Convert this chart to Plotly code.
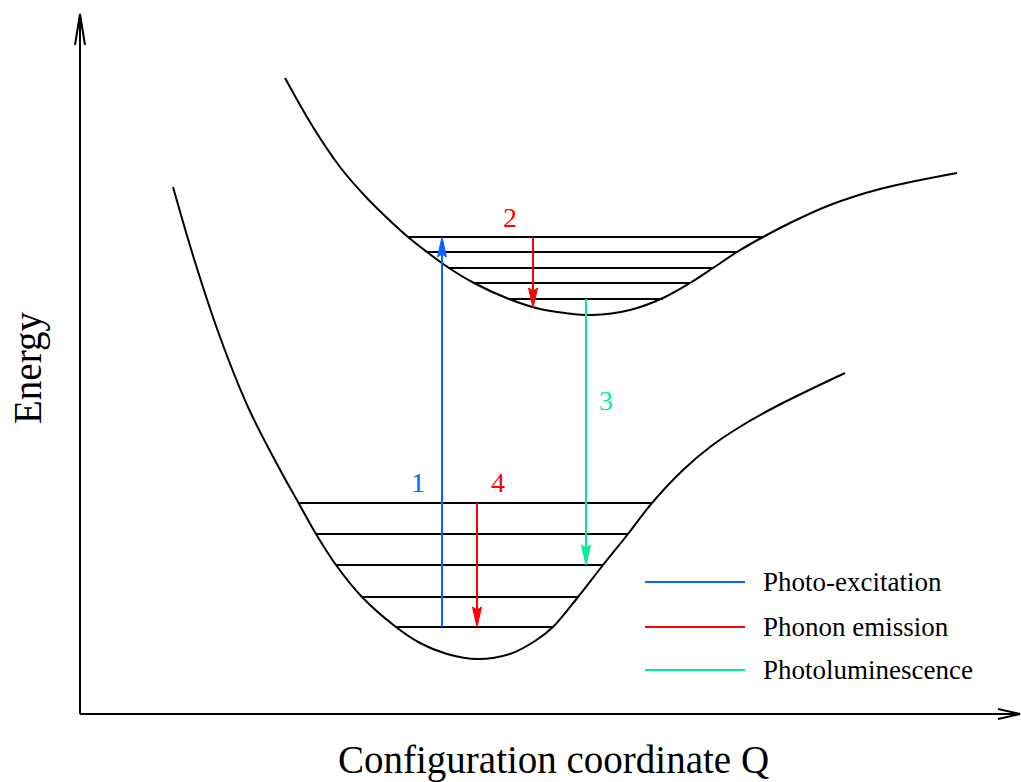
import plotly.graph_objects as go

# Potential energy curves (configuration coordinate Q, energy E)
ground_q = [173, 195, 220, 248, 278, 298, 316, 336, 362, 396, 420, 447, 478, 510,
            535, 553, 578, 603, 628, 652, 683, 710, 738, 775, 845]
ground_e = [595, 520, 445, 375, 316, 280, 248, 217, 185, 155, 139, 128, 123, 128,
            141, 155, 185, 217, 248, 279, 312, 335, 354, 375, 409]

excited_q = [285, 313, 340, 365, 385, 408, 427, 449, 474, 509, 540, 565, 592, 630, 663,
             690, 713, 737, 763, 790, 830, 880, 957]
excited_e = [704, 655, 615, 586, 566, 545, 530, 514, 499, 483, 473, 469, 467, 472, 484,
             499, 514, 530, 545, 559, 577, 593, 609]

# Vibrational levels: energy, left and right turning points
ground_lvl_e = [279, 248, 217, 185, 155]
ground_lvl_q0 = [298, 316, 336, 362, 396]
ground_lvl_q1 = [652, 628, 603, 578, 553]

excited_lvl_e = [545, 530, 514, 499, 483]
excited_lvl_q0 = [408, 427, 449, 474, 509]
excited_lvl_q1 = [763, 737, 713, 690, 663]

# Transitions: label, Q, start energy, end energy, colour
trans_labels = ["1", "2", "3", "4"]
trans_q = [442, 533, 586, 477]
trans_e0 = [155, 545, 483, 279]
trans_e1 = [545, 474, 217, 155]
trans_color = ["#0a64ff", "#ff0000", "#00f090", "#ff0000"]
trans_label_q = [418, 510, 606, 498]
trans_label_e = [300, 565, 382, 300]

# Legend
legend_labels = ["Photo-excitation", "Phonon emission", "Photoluminescence"]
legend_colors = ["#0a64ff", "#ff0000", "#00f090"]
legend_e = [200, 155, 112]
legend_q0, legend_q1, legend_text_q = 645, 745, 761

# Axes frame
origin_q, origin_e = 80, 68
q_end, e_end = 1020, 768

FONT = "Liberation Serif"

fig = go.Figure()


def line(xs, ys, color="black", width=2, shape="linear"):
    fig.add_trace(go.Scatter(x=xs, y=ys, mode="lines", hoverinfo="skip",
                             line=dict(color=color, width=width, shape=shape),
                             showlegend=False))


def filled_head(q, e, direction, color, length=20, half=4.5, notch=3):
    # direction: +1 pointing up (higher E), -1 pointing down
    back = e - direction * length
    xs = [q, q - half, q, q + half, q]
    ys = [e, back, back + direction * notch, back, e]
    fig.add_trace(go.Scatter(x=xs, y=ys, mode="lines", fill="toself",
                             fillcolor=color, hoverinfo="skip",
                             line=dict(color=color, width=1), showlegend=False))


# Curves
line(ground_q, ground_e, shape="spline")
line(excited_q, excited_e, shape="spline")

# Levels
for e, a, b in zip(ground_lvl_e, ground_lvl_q0, ground_lvl_q1):
    line([a, b], [e, e])
for e, a, b in zip(excited_lvl_e, excited_lvl_q0, excited_lvl_q1):
    line([a, b], [e, e])

# Transition arrows
for q, e0, e1, c in zip(trans_q, trans_e0, trans_e1, trans_color):
    d = 1 if e1 > e0 else -1
    line([q, q], [e0, e1 - d * 12], color=c, width=2)
    filled_head(q, e1, d, c)

# Axes with open arrowheads
line([origin_q, origin_q], [origin_e, e_end])
line([origin_q, q_end], [origin_e, origin_e])
line([origin_q - 5, origin_q, origin_q + 5], [e_end - 31, e_end, e_end - 31])
line([q_end - 22, q_end, q_end - 22], [origin_e + 5, origin_e, origin_e - 5])

# Legend lines
for e, c in zip(legend_e, legend_colors):
    line([legend_q0, legend_q1], [e, e], color=c, width=2)

annotations = []
for t, q, e, c in zip(trans_labels, trans_label_q, trans_label_e, trans_color):
    annotations.append(dict(x=q, y=e, text=t, showarrow=False,
                            font=dict(family=FONT, size=28, color=c)))
for t, e in zip(legend_labels, legend_e):
    annotations.append(dict(x=legend_text_q, y=e, text=t, showarrow=False,
                            xanchor="left", yanchor="middle",
                            font=dict(family=FONT, size=27, color="black")))
annotations.append(dict(x=553, y=22, text="Configuration coordinate Q", showarrow=False,
                        font=dict(family=FONT, size=39, color="black")))
annotations.append(dict(x=28, y=414, text="Energy", showarrow=False, textangle=-90,
                        font=dict(family=FONT, size=39, color="black")))

fig.update_layout(
    width=1021, height=782,
    margin=dict(l=0, r=0, t=0, b=0),
    paper_bgcolor="white", plot_bgcolor="white",
    xaxis=dict(range=[0, 1021], visible=False, fixedrange=True),
    yaxis=dict(range=[0, 782], visible=False, fixedrange=True),
    annotations=annotations,
    showlegend=False,
)

fig.write_html("out.html")
